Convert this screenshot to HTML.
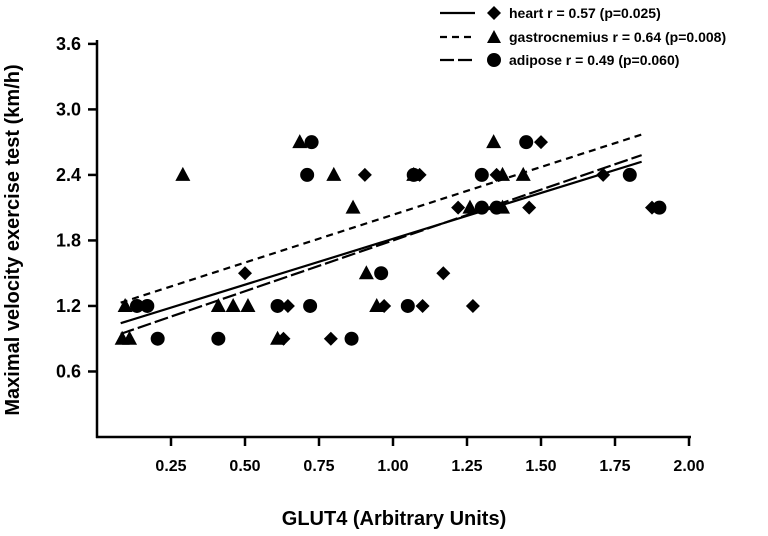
<!DOCTYPE html>
<html><head><meta charset="utf-8"><style>
body{margin:0;background:#fff;width:768px;height:536px;overflow:hidden}
svg{display:block;font-family:"Liberation Sans",Arial,sans-serif;font-weight:bold}
</style></head><body>
<svg id="chart" width="768" height="536" viewBox="0 0 768 536">
<g id="axes"></g>
<g id="lines"></g>
<g id="marks"></g>
<text x="19" y="240" transform="rotate(-90 19 240)" text-anchor="middle" font-size="20">Maximal velocity exercise test (km/h)</text>
<text x="394" y="525" text-anchor="middle" font-size="20">GLUT4 (Arbitrary Units)</text>
<g font-size="14">
<g>
<line x1="440" y1="13" x2="475" y2="13" stroke="#000" stroke-width="2.2"/>
<path d="M494 6 L501 13 L494 20 L487 13Z"/>
<text x="509" y="18">heart r =  0.57 (p=0.025)</text></g>
<g>
<line x1="440" y1="37" x2="475" y2="37" stroke="#000" stroke-width="2.2" stroke-dasharray="7,5"/>
<path d="M494 30 L501 43 L487 43Z"/>
<text x="509" y="42">gastrocnemius r = 0.64 (p=0.008)</text></g>
<g>
<line x1="440" y1="60" x2="475" y2="60" stroke="#000" stroke-width="2.2" stroke-dasharray="14,4"/>
<circle cx="494" cy="60" r="7"/>
<text x="509" y="65">adipose r = 0.49 (p=0.060)</text></g>
</g>
</svg>
<script>
const xTicks=[0.25,0.5,0.75,1.0,1.25,1.5,1.75,2.0];
const xTickLabels=["0.25","0.50","0.75","1.00","1.25","1.50","1.75","2.00"];
const yTicks=[0.6,1.2,1.8,2.4,3.0,3.6];
const yTickLabels=["0.6","1.2","1.8","2.4","3.0","3.6"];
const heartX=[0.50,0.905,1.09,1.50,1.22,1.46,1.875,1.35,1.71,1.17,1.10,1.27,0.97,0.645,0.79,0.63];
const heartY=[1.5,2.4,2.4,2.7,2.1,2.1,2.1,2.4,2.4,1.5,1.2,1.2,1.2,1.2,0.9,0.9];
const gastroX=[0.095,0.41,0.46,0.51,0.085,0.11,0.61,0.29,0.80,0.685,0.865,0.91,0.945,1.34,1.07,1.37,1.44,1.26,1.37];
const gastroY=[1.2,1.2,1.2,1.2,0.9,0.9,0.9,2.4,2.4,2.7,2.1,1.5,1.2,2.7,2.4,2.4,2.4,2.1,2.1];
const adiposeX=[0.135,0.17,0.61,0.72,0.205,0.41,0.86,0.71,0.725,0.96,1.05,1.07,1.30,1.45,1.30,1.35,1.80,1.90];
const adiposeY=[1.2,1.2,1.2,1.2,0.9,0.9,0.9,2.4,2.7,1.5,1.2,2.4,2.4,2.7,2.1,2.1,2.4,2.1];
const fitNames=["heart","gastrocnemius","adipose"];
const fitSlope=[0.84,0.875,0.93];
const fitIntercept=[0.975,1.16,0.87];
const fitRange=[0.08,1.84];
const dashes=["","7,5","14,4"];
const NS="http://www.w3.org/2000/svg";
const sx=v=>97+296*v, sy=v=>437-109.2*v;
function mk(tag,attrs,parent){const e=document.createElementNS(NS,tag);for(const k in attrs)e.setAttribute(k,attrs[k]);parent.appendChild(e);return e;}
const axes=document.getElementById('axes');
let a=mk('line',{x1:97,y1:40,x2:97,y2:438,stroke:'#000','stroke-width':2.5},axes);


a=mk('line',{x1:96,y1:437,x2:691,y2:437,stroke:'#000','stroke-width':2.5},axes);


xTicks.forEach((v,i)=>{
 const t=mk('line',{x1:sx(v),y1:437,x2:sx(v),y2:446,stroke:'#000','stroke-width':2.5},axes);
 
 
 const l=mk('text',{x:sx(v),y:471,'text-anchor':'middle','font-size':16},axes);l.textContent=xTickLabels[i];
 
 
});
yTicks.forEach((v,i)=>{
 const t=mk('line',{x1:88,y1:sy(v),x2:97,y2:sy(v),stroke:'#000','stroke-width':2.5},axes);
 
 
 const l=mk('text',{x:81,y:sy(v)+6,'text-anchor':'end','font-size':18},axes);l.textContent=yTickLabels[i];
 
 
});
const lines=document.getElementById('lines');
fitNames.forEach((n,i)=>{
 const x0=fitRange[0],x1=fitRange[1];
 const l=mk('line',{x1:sx(x0),y1:sy(fitIntercept[i]+fitSlope[i]*x0),x2:sx(x1),y2:sy(fitIntercept[i]+fitSlope[i]*x1),stroke:'#000','stroke-width':2.2},lines);
 if(dashes[i])l.setAttribute('stroke-dasharray',dashes[i]);
 
 
});
const marks=document.getElementById('marks');
gastroX.forEach((v,i)=>{const x=sx(v),y=sy(gastroY[i]);
 const p=mk('path',{d:`M${x} ${y-8}L${x+7.5} ${y+6}L${x-7.5} ${y+6}Z`},marks);
 
 });
adiposeX.forEach((v,i)=>{
 const c=mk('circle',{cx:sx(v),cy:sy(adiposeY[i]),r:7},marks);
 
 });
heartX.forEach((v,i)=>{const x=sx(v),y=sy(heartY[i]);
 const p=mk('path',{d:`M${x} ${y-7}L${x+7} ${y}L${x} ${y+7}L${x-7} ${y}Z`},marks);
 
 });
</script>
</body></html>
